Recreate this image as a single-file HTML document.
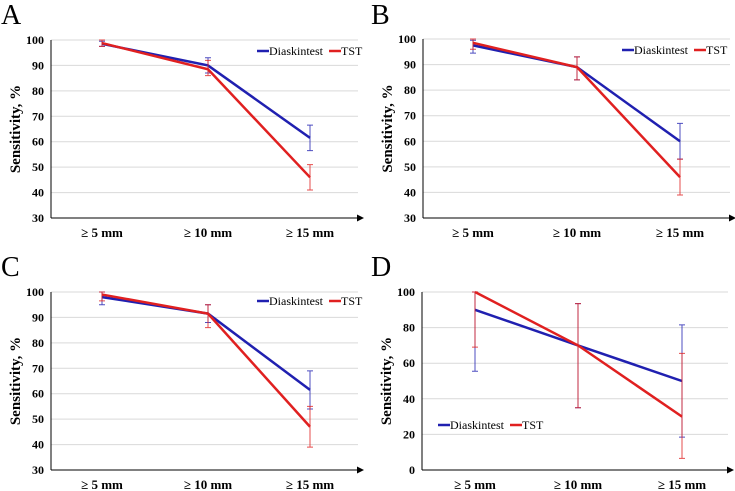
<!DOCTYPE html>
<html><head><meta charset="utf-8"><style>
body{margin:0;background:#fff}
svg{display:block;font-family:"Liberation Serif",serif}
</style></head><body>
<svg id="s" width="735" height="491" viewBox="0 0 735 491"></svg>
<script>
const categories=["≥ 5 mm","≥ 10 mm","≥ 15 mm"];
const aDia=[98.5,90,61.5], aDiaLo=[97.5,87,56.5], aDiaHi=[99.5,93,66.5];
const aTst=[98.8,88.5,46], aTstLo=[97.5,86,41], aTstHi=[100,92,51];
const bDia=[97.5,89,60], bDiaLo=[94.5,84,53], bDiaHi=[99.5,93,67];
const bTst=[98.5,89,46], bTstLo=[96,84,39], bTstHi=[100,93,53];
const cDia=[98,91.5,61.5], cDiaLo=[95,88,54], cDiaHi=[100,95,69];
const cTst=[99,91.5,47], cTstLo=[96.5,86,39], cTstHi=[100,95,55];
const dDia=[90,70,50], dDiaLo=[55.5,35,18.5], dDiaHi=[100,93.5,81.5];
const dTst=[100,70,30], dTstLo=[69,35,6.5], dTstHi=[100,93.5,65.5];
const ticks1=[30,40,50,60,70,80,90,100], ticks2=[0,20,40,60,80,100];
const NS="http://www.w3.org/2000/svg", svg=document.getElementById('s');
function mk(tag,at,parent,txt){const e=document.createElementNS(NS,tag);for(const k in at)e.setAttribute(k,at[k]);if(txt!==undefined)e.textContent=txt;(parent||svg).appendChild(e);return e;}
const BLUE="#2020b0", RED="#e02020";
function panel(p){
  const g=mk('g',{});
  
  
  const y=v=>p.y1+(p.y0-p.y1)*(v-p.min)/(p.max-p.min);
  const x=i=>p.cx[i];
  const L=mk('text',{x:p.lx,y:p.ly,'font-size':28},g,p.id);
  
  p.ticks.forEach(t=>{
    if(t!==p.min){const gl=mk('line',{x1:p.ax,x2:p.ax+p.w,y1:y(t),y2:y(t),stroke:'#d9d9d9','stroke-width':1},g);
      }
    const tl=mk('text',{x:p.ax-7,y:y(t)+4,'font-size':12,'font-weight':'bold','text-anchor':'end'},g,t);
    
  });
  mk('line',{x1:p.ax,x2:p.ax,y1:p.y0,y2:y(p.min),stroke:'#000','stroke-width':1},g);
  const xa=mk('line',{x1:p.ax,x2:p.ax+p.w,y1:y(p.min),y2:y(p.min),stroke:'#000','stroke-width':1},g);
  
  mk('path',{d:`M${p.ax+p.w+6},${y(p.min)} l-7,-3.5 v7 z`,fill:'#000'},g);
  categories.forEach((c,i)=>{const t=mk('text',{x:x(i),y:y(p.min)+19,'font-size':13,'font-weight':'bold','text-anchor':'middle'},g,c);
    });
  const yt=mk('text',{transform:`translate(${p.ax-31},${(p.y0+y(p.min))/2}) rotate(-90)`,'font-size':15,'font-weight':'bold','text-anchor':'middle'},g,'Sensitivity, %');
  
  p.series.forEach(s=>{
    const pl=mk('polyline',{points:s.v.map((v,i)=>x(i)+','+y(v)).join(' '),fill:'none',stroke:s.c,'stroke-width':2.5},g);
    
    s.v.forEach((v,i)=>{
      const e=mk('path',{d:`M${x(i)},${y(s.lo[i])}V${y(s.hi[i])}M${x(i)-3},${y(s.lo[i])}h6M${x(i)-3},${y(s.hi[i])}h6`,stroke:s.c,'stroke-width':1,fill:'none',opacity:0.8},g);
      
    });
  });
  const lg=mk('g',{},g);
  mk('line',{x1:p.lgx,x2:p.lgx+12,y1:p.lgy,y2:p.lgy,stroke:BLUE,'stroke-width':2.5},lg);
  mk('text',{x:p.lgx+12,y:p.lgy+4,'font-size':12},lg,'Diaskintest');
  mk('line',{x1:p.lgx+72,x2:p.lgx+84,y1:p.lgy,y2:p.lgy,stroke:RED,'stroke-width':2.5},lg);
  mk('text',{x:p.lgx+84,y:p.lgy+4,'font-size':12},lg,'TST');
}
function ser(d,dl,dh,t,tl,th){return [{n:'diaskintest',c:BLUE,v:d,lo:dl,hi:dh},{n:'tst',c:RED,v:t,lo:tl,hi:th}];}
panel({id:'A',lx:1,ly:24,ax:51,w:307,y0:40,y1:218,min:30,max:100,ticks:ticks1,cx:[102,208,310],lgx:257,lgy:51,series:ser(aDia,aDiaLo,aDiaHi,aTst,aTstLo,aTstHi)});
panel({id:'B',lx:371,ly:24,ax:423,w:307,y0:39,y1:218,min:30,max:100,ticks:ticks1,cx:[473,577,680],lgx:622,lgy:50,series:ser(bDia,bDiaLo,bDiaHi,bTst,bTstLo,bTstHi)});
panel({id:'C',lx:1,ly:276,ax:51,w:307,y0:292,y1:470,min:30,max:100,ticks:ticks1,cx:[102,208,310],lgx:257,lgy:301,series:ser(cDia,cDiaLo,cDiaHi,cTst,cTstLo,cTstHi)});
panel({id:'D',lx:371,ly:276,ax:422,w:306,y0:292,y1:470,min:0,max:100,ticks:ticks2,cx:[475,578,682],lgx:438,lgy:425,series:ser(dDia,dDiaLo,dDiaHi,dTst,dTstLo,dTstHi)});
</script>
</body></html>
